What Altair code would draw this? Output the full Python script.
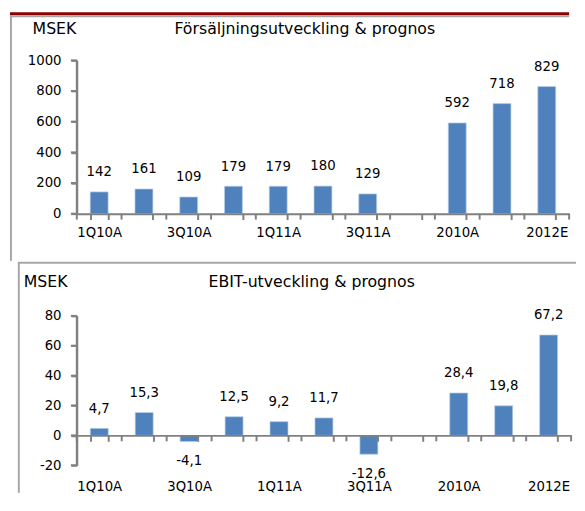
import json
import altair as alt
import pandas as pd

categories = ["1Q10A", "2Q10A", "3Q10A", "4Q10A", "1Q11A", "2Q11A", "3Q11A", " ",
              "2010A", "2011E", "2012E"]
sales = [142, 161, 109, 179, 179, 180, 129, None, 592, 718, 829]
ebit = [4.7, 15.3, -4.1, 12.5, 9.2, 11.7, -12.6, None, 28.4, 19.8, 67.2]
shown_labels = ["1Q10A", "3Q10A", "1Q11A", "3Q11A", "2010A", "2012E"]
sales_ticks = [0, 200, 400, 600, 800, 1000]
ebit_ticks = [-20, 0, 20, 40, 60, 80]
unit = "MSEK"
title_top = "Försäljningsutveckling & prognos"
title_bottom = "EBIT-utveckling & prognos"

FONT = "DejaVu Sans"
BLUE = "#4F81BD"
AXIS = "#808080"
FRAME = "#a6a6a6"
RED = "#8B0000"


def fmt_int(v):
    return "" if v is None else str(int(v))


def fmt_dec(v):
    return "" if v is None else f"{v:.1f}".replace(".", ",")


sales_df = pd.DataFrame({"cat": categories, "val": sales,
                         "lab": [fmt_int(v) for v in sales]})
ebit_df = pd.DataFrame({"cat": categories, "val": ebit,
                        "lab": [fmt_dec(v) for v in ebit]})
one = pd.DataFrame({"k": [0]})

label_expr = "indexof(%s, datum.value) >= 0 ? datum.value : ''" % json.dumps(shown_labels)

axis_style = dict(ticks=True, domain=True, grid=False, domainColor=AXIS, tickColor=AXIS,
                  domainWidth=2, tickWidth=2, tickSize=6, tickOpacity=1, domainOpacity=1,
                  labelFont=FONT, labelFontSize=13.5, labelColor="black",
                  labelOverlap=False, title=None, zindex=1)


def encodings(domain, ticks, offset, pad):
    x = alt.X("cat:N", sort=categories,
              scale=alt.Scale(domain=categories, paddingInner=0.6, paddingOuter=0.3),
              axis=alt.Axis(labelAngle=0, tickBand="extent", labelExpr=label_expr,
                            labelPadding=pad, offset=offset, **axis_style))
    y = alt.Y("val:Q", scale=alt.Scale(domain=domain, nice=False, zero=False),
              axis=alt.Axis(values=ticks, labelPadding=10,
                            labelExpr="'' + datum.value", **axis_style))
    return x, y


def hrule(y, x1, x2, color, w):
    return alt.Chart(one).mark_rule(color=color, strokeWidth=w).encode(
        x=alt.value(x1), x2=alt.value(x2), y=alt.value(y))


def vrule(x, y1, y2, color, w):
    return alt.Chart(one).mark_rule(color=color, strokeWidth=w).encode(
        x=alt.value(x), y=alt.value(y1), y2=alt.value(y2))


def label(text, x, y, align):
    return alt.Chart(pd.DataFrame({"t": [text]})).mark_text(
        align=align, baseline="alphabetic", fontSize=16, color="black").encode(
        text="t:N", x=alt.value(x), y=alt.value(y))


def panel(df, domain, ticks, offset, pad, W, H, zero_y, neg_dy):
    xe, ye = encodings(domain, ticks, offset, pad)
    base = alt.Chart(df).encode(x=xe, y=ye)
    step = W / len(categories)
    layers = [
        base.mark_bar(color=BLUE, stroke="#b9cde5", strokeWidth=0.7),
        base.transform_filter("datum.val >= 0").mark_text(
            dy=-16, baseline="alphabetic", fontSize=13.5, color="black").encode(text="lab:N"),
    ]
    if neg_dy is not None:
        layers.append(base.transform_filter("datum.val < 0").mark_text(
            dy=neg_dy, baseline="alphabetic", fontSize=13.5, color="black").encode(text="lab:N"))
    # axis line and tick marks (same styling as the axes)
    layers += [
        alt.Chart(pd.DataFrame({"val": ticks})).mark_rule(color=AXIS, strokeWidth=2).encode(
            y=ye, x=alt.value(-6), x2=alt.value(0)),
        vrule(0, 0, H, AXIS, 2),
        alt.Chart(df).mark_rule(color=AXIS, strokeWidth=2, xOffset=-step / 2).encode(
            x=xe, y=alt.value(zero_y), y2=alt.value(zero_y + 6)),
        vrule(W, zero_y, zero_y + 6, AXIS, 2),
    ]
    return layers


# ---------- top panel ----------
W1, H1 = 501, 156
top = alt.layer(
    *panel(sales_df, [0, 1000], sales_ticks, 0, 6.5, W1, H1, H1, None),
    hrule(-47.5, -68, 501, RED, 3),
    hrule(-45, -68, 501, FRAME, 2),
    vrule(-67, -46, 204, FRAME, 2),
    label(unit, -45, -27, "left"),
    label(title_top, 232, -27, "center"),
).properties(width=W1, height=H1)

# ---------- bottom panel ----------
W2, H2 = 503, 152
bottom = alt.layer(
    *panel(ebit_df, [-20, 80], ebit_ticks, -30.4, 39.5, W2, H2, H2 * 0.8, 24),
    hrule(-54, -60, 508, FRAME, 2),
    vrule(-59, -54, 180, FRAME, 2),
    label(unit, -54, -29, "left"),
    label(title_bottom, 239, -29, "center"),
).properties(width=W2, height=H2)

chart = alt.concat(top, bottom, columns=1, spacing=0, align="none").properties(
    padding=0
).configure_view(stroke=None).configure_axis(
    labelFont=FONT, labelFontSize=13.5, labelColor="black", labelOverlap=False,
    ticks=True, domain=True, grid=False,
    domainColor=AXIS, tickColor=AXIS, domainWidth=2, tickWidth=2, tickSize=6,
).configure_text(font=FONT)

chart.save("out.html", embed_options={"renderer": "svg", "actions": False})
